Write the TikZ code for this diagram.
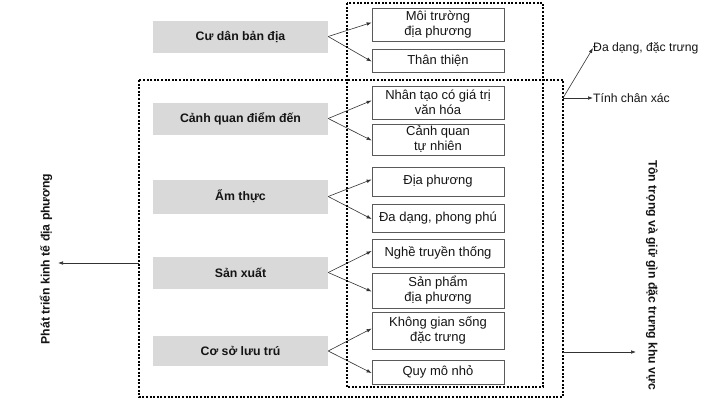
\documentclass[tikz,border=0pt]{standalone}
\usepackage{fontspec}
\setmainfont{Liberation Sans}
\usetikzlibrary{arrows.meta}
\definecolor{boxgray}{RGB}{217,217,217}
\definecolor{boxline}{RGB}{90,90,90}
\definecolor{arrowc}{RGB}{50,50,50}
\definecolor{txt}{RGB}{20,20,20}
\begin{document}
\begin{tikzpicture}[x=1pt,y=-1pt,
 graybox/.style={fill=boxgray, minimum width=175pt, minimum height=32pt, font=\fontsize{12.3}{14}\selectfont\bfseries, text=txt, inner sep=0pt},
 wbox/.style={draw=boxline, line width=0.7pt, minimum width=132pt, align=center, font=\fontsize{13}{15}\selectfont, text=txt, inner sep=0pt},
 arr/.style={draw=arrowc, line width=0.6pt, -{Latex[length=5pt,width=3.6pt]}},
 dotbox/.style={draw=black, line width=2pt, dash pattern=on 2pt off 1.6pt},
 sidelbl/.style={font=\fontsize{12.2}{14}\selectfont, text=txt, inner sep=0pt, anchor=west},
 vlbl/.style={font=\fontsize{12.2}{14}\selectfont\bfseries, text=txt, inner sep=0pt}
]
\useasboundingbox (0,0) rectangle (705,400);

% gray boxes
\node[graybox] (g1) at (240.5,36.5) {Cư dân bản địa};
\node[graybox] (g2) at (240.5,118.5) {Cảnh quan điểm đến};
\node[graybox, minimum height=34pt] (g3) at (240.5,196.5) {Ẩm thực};
\node[graybox] (g4) at (240.5,272.5) {Sản xuất};
\node[graybox, minimum height=30pt] (g5) at (240.5,351) {Cơ sở lưu trú};

% white boxes
\node[wbox, minimum height=33pt] (m1) at (438,24.5) {Môi trường\\địa phương};
\node[wbox, minimum height=23pt] (m2) at (438,60.5) {Thân thiện};
\node[wbox, minimum height=33pt] (c1) at (438,102.5) {Nhân tạo có giá trị\\văn hóa};
\node[wbox, minimum height=31pt] (c2) at (438,139.5) {Cảnh quan\\tự nhiên};
\node[wbox, minimum height=29pt] (a1) at (438,181.5) {Địa phương};
\node[wbox, minimum height=28pt] (a2) at (438,218) {Đa dạng, phong phú};
\node[wbox, minimum height=28pt] (s1) at (438,253) {Nghề truyền thống};
\node[wbox, minimum height=35pt] (s2) at (438,290.5) {Sản phẩm\\địa phương};
\node[wbox, minimum height=37pt] (l1) at (438,330.5) {Không gian sống\\đặc trưng};
\node[wbox, minimum height=24pt] (l2) at (438,372) {Quy mô nhỏ};

% arrows
\foreach \g/\a/\b in {g1/m1/m2, g2/c1/c2, g3/a1/a2, g4/s1/s2, g5/l1/l2}{
  \draw[arr] (\g.east) -- ([yshift=2pt]\a.west);
  \draw[arr] (\g.east) -- ([yshift=-1pt]\b.west);
}

% dotted frames
\draw[dotbox] (347,3) rectangle (543,387);
\draw[dotbox] (139,80) rectangle (563,397);

% right-top labels
\coordinate (r1) at (563,98);
\node[sidelbl] (t1) at (593,48) {Đa dạng, đặc trưng};
\node[sidelbl] (t2) at (593,98) {Tính chân xác};
\draw[arr] (r1) -- (t1.west);
\draw[arr] (r1) -- (t2.west);

% left label
\coordinate (lstart) at (139,263);
\node[vlbl, rotate=90] (lv) at (46,259) {Phát triển kinh tế địa phương};
\coordinate (lend) at (58,263);
\draw[arr] (lstart) -- (lend);

% right label
\coordinate (rstart) at (563,352);
\node[vlbl, rotate=-90] (rv) at (652,275) {Tôn trọng và giữ gìn đặc trưng khu vực};
\coordinate (rend) at (636,352);
\draw[arr] (rstart) -- (rend);
\end{tikzpicture}
\end{document}
